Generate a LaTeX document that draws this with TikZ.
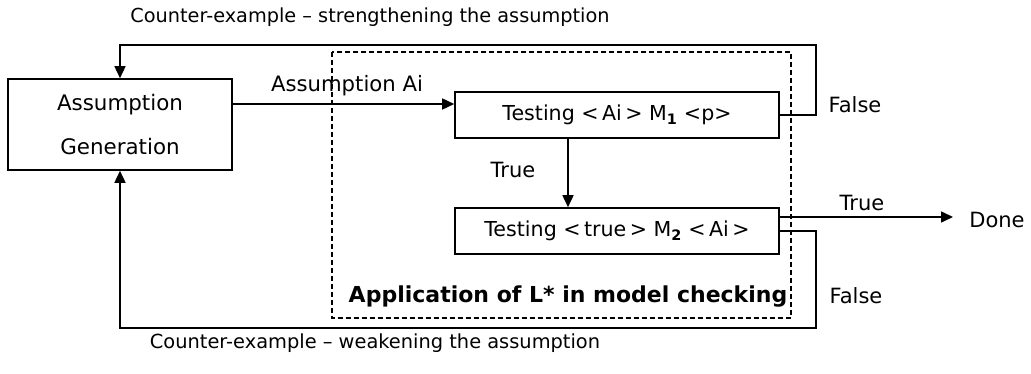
\documentclass[tikz,border=0pt]{standalone}
\usepackage{fontspec}
\setmainfont{DejaVu Sans}
\usetikzlibrary{arrows.meta,calc}
\newcommand{\fs}[1]{\fontsize{#1}{1.2\dimexpr #1pt\relax}\selectfont}
\begin{document}
\begin{tikzpicture}[x=1pt,y=-1pt,
  every node/.style={font=\fs{19.3}, inner sep=0pt},
  box/.style={draw, line width=1.6pt, rectangle},
  wire/.style={line width=1.6pt},
  arr/.style={wire, -{Triangle[length=12pt,width=11pt]}},
  frame/.style={line width=1.6pt, dash pattern=on 5pt off 3pt},
  lbl/.style={anchor=center},
  small/.style={font=\fs{21}},
  boldlbl/.style={font=\fs{22}\bfseries}]
\useasboundingbox (0,0) rectangle (1031,374);

% blocks
\node[box, minimum width=224pt, minimum height=91pt, align=center, font=\fs{21.4}] (ag) at (120,124.5)
  {Assumption\\[19pt]Generation};
\node[box, minimum width=324pt, minimum height=46pt, font=\fs{20.6}] (t1) at (617,115)
  {Testing <\,Ai\,> M$_{\mathbf{1}}$ <p>};
\node[box, minimum width=324pt, minimum height=46pt, font=\fs{20.6}] (t2) at (617,231)
  {Testing <\,true\,> M$_{\mathbf{2}}$ <\,Ai\,>};

% L* region
\draw[frame] (332,52) rectangle (791,318);
\node[boldlbl] (app) at (568,297) {Application of L* in model checking};

% routing points
\coordinate (inY) at (0,104);
\coordinate (midX) at (568,0);
\coordinate (tY) at (0,217);
\coordinate (fY) at (0,231);
\coordinate (rX) at (816,0);
\coordinate (topY) at (0,45);
\coordinate (botY) at (0,328);
\coordinate (doneTip) at (953,217);

% connectors
\draw[arr] (ag.east |- inY) -- (t1.west |- inY);
\draw[arr] (t1.south -| midX) -- (t2.north -| midX);
\draw[arr] (t1.east) -- (rX |- t1.east) -- (rX |- topY) -- (ag.north |- topY) -- (ag.north);
\draw[arr] (t2.east |- tY) -- (doneTip);
\draw[arr] (t2.east |- fY) -- (rX |- fY) -- (rX |- botY) -- (ag.south |- botY) -- (ag.south);

% labels
\node[lbl, font=\fs{21.2}] (lblA) at (347,86) {Assumption Ai};
\node[lbl, small] (lblT1) at (513,170) {True};
\node[lbl, small] (lblF1) at (855,105) {False};
\node[lbl, small] (lblT2) at (862,203) {True};
\node[lbl, small] (done) at (997,220) {Done};
\node[lbl, small] (lblF2) at (856,296) {False};
\node[lbl] (top) at (370,17) {Counter-example -- strengthening the assumption};
\node[lbl, font=\fs{19.4}] (bot) at (375,343) {Counter-example -- weakening the assumption};
\end{tikzpicture}
\end{document}
